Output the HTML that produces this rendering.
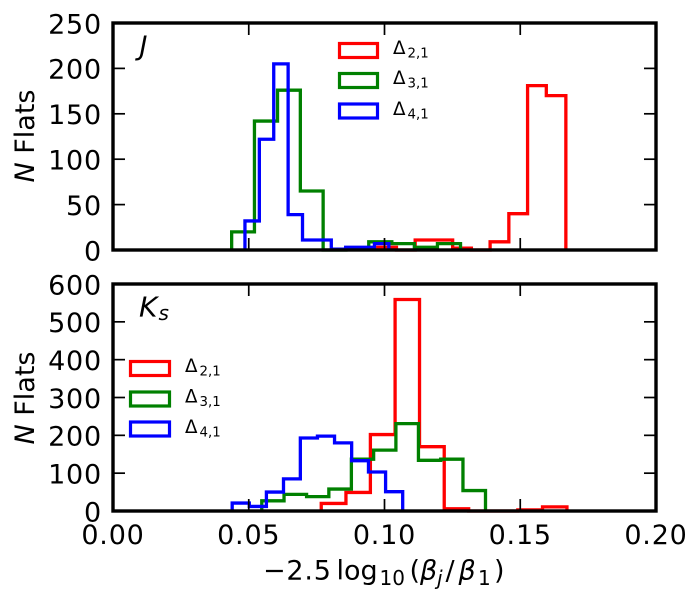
<!DOCTYPE html>
<html>
<head>
<meta charset="utf-8">
<title>Flat histogram chart</title>
<style>
html,body{margin:0;padding:0;background:#fff;width:700px;height:600px;overflow:hidden}
svg{display:block}
text{font-family:"DejaVu Sans","Liberation Sans",sans-serif;fill:#000}
</style>
</head>
<body>
<svg id="chart" width="700" height="600" viewBox="0 0 700 600">
  <rect width="700" height="600" fill="#fff"/>
  <g id="panel-j"></g>
  <g id="panel-k"></g>

  <text x="139.5" y="55" font-size="27" font-style="italic">J</text>
  <text x="139" y="316.7" font-size="28" font-style="italic">K<tspan x="158.5" y="320" font-size="20">s</tspan></text>

  <text transform="translate(34,136) rotate(-90)" text-anchor="middle" font-size="27"><tspan font-style="italic">N</tspan> Flats</text>
  <text transform="translate(34,398) rotate(-90)" text-anchor="middle" font-size="27"><tspan font-style="italic">N</tspan> Flats</text>

  <text y="579.5" font-size="27"><tspan x="263" letter-spacing="0.8">−2.5</tspan><tspan x="336.5">log</tspan><tspan x="379.5" y="585" font-size="20">10</tspan><tspan x="409.5" y="579.5">(</tspan><tspan x="420" font-style="italic">β</tspan><tspan x="437" y="585" font-size="20" font-style="italic">j</tspan><tspan x="445.5" y="579.5">/</tspan><tspan x="458.5" font-style="italic">β</tspan><tspan x="478" y="585" font-size="20">1</tspan><tspan x="494" y="579.5">)</tspan></text>

  <g>
    <rect x="339.5" y="43.5" width="38" height="14" fill="none" stroke="#ff0000" stroke-width="3.2"/>
    <text x="393" y="54" font-size="18.3">Δ<tspan font-size="13.3" dx="2" dy="3.3">2,1</tspan></text>
    <rect x="339.5" y="73.5" width="38" height="14" fill="none" stroke="#008000" stroke-width="3.2"/>
    <text x="393" y="84" font-size="18.3">Δ<tspan font-size="13.3" dx="2" dy="3.3">3,1</tspan></text>
    <rect x="339.5" y="104" width="38" height="14" fill="none" stroke="#0000ff" stroke-width="3.2"/>
    <text x="393" y="115" font-size="18.3">Δ<tspan font-size="13.3" dx="2" dy="3.3">4,1</tspan></text>
  </g>

  <g>
    <rect x="130.5" y="361.5" width="39" height="14" fill="none" stroke="#ff0000" stroke-width="3.2"/>
    <text x="185" y="372" font-size="18.3">Δ<tspan font-size="13.3" dx="2" dy="3.3">2,1</tspan></text>
    <rect x="130.5" y="392" width="39" height="14" fill="none" stroke="#008000" stroke-width="3.2"/>
    <text x="185" y="402.5" font-size="18.3">Δ<tspan font-size="13.3" dx="2" dy="3.3">3,1</tspan></text>
    <rect x="130.5" y="422" width="39" height="14" fill="none" stroke="#0000ff" stroke-width="3.2"/>
    <text x="185" y="433" font-size="18.3">Δ<tspan font-size="13.3" dx="2" dy="3.3">4,1</tspan></text>
  </g>
</svg>

<script>
// X axis
const xTicks = [0, 0.05, 0.10, 0.15, 0.20];
const xTickLabels = ["0.00", "0.05", "0.10", "0.15", "0.20"];

// J panel axis
const jYTicks = [0, 50, 100, 150, 200, 250];
const jYTickLabels = ["0", "50", "100", "150", "200", "250"];

// Ks panel axis
const kYTicks = [0, 100, 200, 300, 400, 500, 600];
const kYTickLabels = ["0", "100", "200", "300", "400", "500", "600"];

// J panel histograms: bin edges and counts
const jRedEdges = [0.0975, 0.1044, 0.1113, 0.1182, 0.1251, 0.1320, 0.1389, 0.1458, 0.1527, 0.1596, 0.1668];
const jRedCounts = [3, 0, 11, 11, 2, 0, 9, 40, 181, 170];
const jGreenEdges = [0.0437, 0.0521, 0.0606, 0.0690, 0.0774, 0.0858, 0.0942, 0.1027, 0.1110, 0.1195, 0.1280];
const jGreenCounts = [20, 142, 176, 65, 0, 2, 9, 7, 3, 7];
const jBlueEdges = [0.0486, 0.0539, 0.0592, 0.0645, 0.0698, 0.0751, 0.0804, 0.0857, 0.0910, 0.0963, 0.1016];
const jBlueCounts = [32, 122, 205, 39, 11, 11, 1, 3, 3, 7];

// Ks panel histograms: bin edges and counts
const kRedEdges = [0.0767, 0.0858, 0.0948, 0.1039, 0.1129, 0.1220, 0.1310, 0.1401, 0.1491, 0.1582, 0.1672];
const kRedCounts = [20, 49, 202, 559, 170, 6, 0, 0, 3, 11];
const kGreenEdges = [0.0548, 0.0630, 0.0713, 0.0795, 0.0878, 0.0960, 0.1042, 0.1125, 0.1207, 0.1289, 0.1372];
const kGreenCounts = [27, 44, 38, 58, 137, 161, 231, 134, 137, 54];
const kBlueEdges = [0.0439, 0.0502, 0.0565, 0.0628, 0.0690, 0.0753, 0.0816, 0.0879, 0.0941, 0.1004, 0.1067];
const kBlueCounts = [21, 12, 50, 85, 193, 198, 180, 133, 103, 51];

const NS = "http://www.w3.org/2000/svg";
const plotLeft = 113, plotRight = 656;
const xMax = 0.2;

function xScale(v) {
  return plotLeft + (v / xMax) * (plotRight - plotLeft);
}

function makeYScale(top, bottom, yMax) {
  return function (v) {
    return bottom - (v / yMax) * (bottom - top);
  };
}

function stepPath(edges, counts, yScale) {
  let d = "M" + xScale(edges[0]).toFixed(2) + " " + yScale(0).toFixed(2);
  for (let i = 0; i < counts.length; i++) {
    const h = yScale(counts[i]).toFixed(2);
    d += "L" + xScale(edges[i]).toFixed(2) + " " + h;
    d += "L" + xScale(edges[i + 1]).toFixed(2) + " " + h;
  }
  d += "L" + xScale(edges[counts.length]).toFixed(2) + " " + yScale(0).toFixed(2);
  return d;
}

function drawHist(parent, prefix, label, edges, counts, color, yScale) {
  const p = document.createElementNS(NS, "path");
  
  
  p.setAttribute("d", stepPath(edges, counts, yScale));
  p.setAttribute("fill", "none");
  p.setAttribute("stroke", color);
  p.setAttribute("stroke-width", "3.3");
  p.setAttribute("stroke-linejoin", "miter");
  parent.appendChild(p);
}

function tickLine(parent, name, x1, y1, x2, y2) {
  const l = document.createElementNS(NS, "line");
  
  
  l.setAttribute("x1", x1);
  l.setAttribute("y1", y1);
  l.setAttribute("x2", x2);
  l.setAttribute("y2", y2);
  l.setAttribute("stroke", "#000");
  l.setAttribute("stroke-width", "1.7");
  parent.appendChild(l);
}

function drawAxes(parent, prefix, top, bottom, yScale, yTicks, yLabels, showXLabels) {
  const tickLen = 12;
  xTicks.forEach(function (t, i) {
    const x = xScale(t);
    if (i > 0 && i < xTicks.length - 1) {
      tickLine(parent, prefix + "-x-tick-bottom", x, bottom, x, bottom - tickLen);
      tickLine(parent, prefix + "-x-tick-top", x, top, x, top + tickLen);
    }
    if (showXLabels) {
      const label = document.createElementNS(NS, "text");
      
      
      label.setAttribute("x", x);
      label.setAttribute("y", bottom + 33);
      label.setAttribute("font-size", "27");
      label.setAttribute("letter-spacing", "0.8");
      label.setAttribute("text-anchor", "middle");
      label.textContent = xTickLabels[i];
      parent.appendChild(label);
    }
  });
  yTicks.forEach(function (t, i) {
    const y = yScale(t);
    if (i > 0 && i < yTicks.length - 1) {
      tickLine(parent, prefix + "-y-tick-left", plotLeft, y, plotLeft + tickLen, y);
      tickLine(parent, prefix + "-y-tick-right", plotRight, y, plotRight - tickLen, y);
    }
    const label = document.createElementNS(NS, "text");
    
    
    label.setAttribute("x", 102);
    label.setAttribute("y", y + 10.3);
    label.setAttribute("font-size", "27");
    label.setAttribute("letter-spacing", "0.8");
    label.setAttribute("text-anchor", "end");
    label.textContent = yLabels[i];
    parent.appendChild(label);
  });
  const frame = document.createElementNS(NS, "rect");
  
  
  frame.setAttribute("x", plotLeft);
  frame.setAttribute("y", top);
  frame.setAttribute("width", plotRight - plotLeft);
  frame.setAttribute("height", bottom - top);
  frame.setAttribute("fill", "none");
  frame.setAttribute("stroke", "#000");
  frame.setAttribute("stroke-width", "3.4");
  parent.appendChild(frame);
}

const jPanel = document.getElementById("panel-j");
const jY = makeYScale(23, 250, 250);
drawHist(jPanel, "j", "delta-2-1", jRedEdges, jRedCounts, "#ff0000", jY);
drawHist(jPanel, "j", "delta-3-1", jGreenEdges, jGreenCounts, "#008000", jY);
drawHist(jPanel, "j", "delta-4-1", jBlueEdges, jBlueCounts, "#0000ff", jY);
drawAxes(jPanel, "j", 23, 250, jY, jYTicks, jYTickLabels, false);

const kPanel = document.getElementById("panel-k");
const kY = makeYScale(284, 511, 600);
drawHist(kPanel, "ks", "delta-2-1", kRedEdges, kRedCounts, "#ff0000", kY);
drawHist(kPanel, "ks", "delta-3-1", kGreenEdges, kGreenCounts, "#008000", kY);
drawHist(kPanel, "ks", "delta-4-1", kBlueEdges, kBlueCounts, "#0000ff", kY);
drawAxes(kPanel, "ks", 284, 511, kY, kYTicks, kYTickLabels, true);
</script>
</body>
</html>
